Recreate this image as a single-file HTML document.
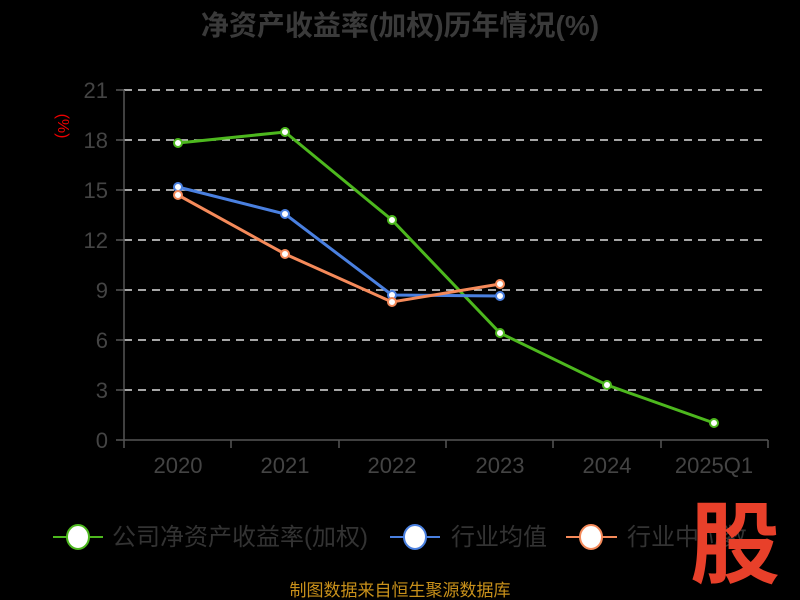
<!DOCTYPE html>
<html><head><meta charset="utf-8"><style>
html,body{margin:0;padding:0;background:#000;}
svg{display:block;font-family:"Liberation Sans","Noto Sans CJK SC",sans-serif;}
</style></head><body>
<svg width="800" height="600" viewBox="0 0 800 600">
<rect width="800" height="600" fill="#000"/>
<text x="400" y="35" text-anchor="middle" font-size="28" font-weight="bold" fill="#3a3a3a">净资产收益率(加权)历年情况(%)</text>
<g stroke="#ddd" stroke-width="1.5" stroke-dasharray="8,6">
<line x1="124" y1="90" x2="768" y2="90"/><line x1="124" y1="140" x2="768" y2="140"/>
<line x1="124" y1="190" x2="768" y2="190"/><line x1="124" y1="240" x2="768" y2="240"/>
<line x1="124" y1="290" x2="768" y2="290"/><line x1="124" y1="340" x2="768" y2="340"/>
<line x1="124" y1="390" x2="768" y2="390"/>
</g>
<g stroke="#555" stroke-width="1.5">
<line x1="124" y1="90" x2="124" y2="440"/><line x1="124" y1="440" x2="768" y2="440"/>
<line x1="116" y1="90" x2="124" y2="90"/><line x1="116" y1="140" x2="124" y2="140"/><line x1="116" y1="190" x2="124" y2="190"/><line x1="116" y1="240" x2="124" y2="240"/><line x1="116" y1="290" x2="124" y2="290"/><line x1="116" y1="340" x2="124" y2="340"/><line x1="116" y1="390" x2="124" y2="390"/><line x1="116" y1="440" x2="124" y2="440"/>
<line x1="124" y1="440" x2="124" y2="448"/><line x1="231" y1="440" x2="231" y2="448"/><line x1="339" y1="440" x2="339" y2="448"/><line x1="446" y1="440" x2="446" y2="448"/><line x1="553" y1="440" x2="553" y2="448"/><line x1="661" y1="440" x2="661" y2="448"/><line x1="768" y1="440" x2="768" y2="448"/>
</g>
<g font-size="22" fill="#444" text-anchor="end">
<text x="108" y="98">21</text><text x="108" y="148">18</text><text x="108" y="198">15</text><text x="108" y="248">12</text><text x="108" y="298">9</text><text x="108" y="348">6</text><text x="108" y="398">3</text><text x="108" y="448">0</text>
</g>
<g font-size="22" fill="#444" text-anchor="middle">
<text x="178" y="473">2020</text><text x="285" y="473">2021</text><text x="392" y="473">2022</text><text x="500" y="473">2023</text><text x="607" y="473">2024</text><text x="714" y="473">2025Q1</text>
</g>
<text transform="translate(58,126) rotate(90)" font-size="16" fill="#e00" text-anchor="middle">(%)</text>
<g fill="#fff" stroke-width="2">
<polyline fill="none" stroke="#4db81e" stroke-width="3" points="178,143 285,132 392,220 500,333 607,385 714,423"/>
<polyline fill="none" stroke="#4a80e0" stroke-width="3" points="178,187 285,214 392,295 500,296"/>
<polyline fill="none" stroke="#f58a5a" stroke-width="3" points="178,195 285,254 392,302 500,284"/>
<g stroke="#4db81e"><circle cx="178" cy="143" r="4"/><circle cx="285" cy="132" r="4"/><circle cx="392" cy="220" r="4"/><circle cx="500" cy="333" r="4"/><circle cx="607" cy="385" r="4"/><circle cx="714" cy="423" r="4"/></g>
<g stroke="#4a80e0"><circle cx="178" cy="187" r="4"/><circle cx="285" cy="214" r="4"/><circle cx="392" cy="295" r="4"/><circle cx="500" cy="296" r="4"/></g>
<g stroke="#f58a5a"><circle cx="178" cy="195" r="4"/><circle cx="285" cy="254" r="4"/><circle cx="392" cy="302" r="4"/><circle cx="500" cy="284" r="4"/></g>
</g>
<g stroke-width="2">
<line x1="53" y1="537" x2="103" y2="537" stroke="#4db81e"/><ellipse cx="78" cy="537" rx="11" ry="12" fill="#fff" stroke="#4db81e"/>
<line x1="390" y1="537" x2="440" y2="537" stroke="#4a80e0"/><ellipse cx="415" cy="537" rx="11" ry="12" fill="#fff" stroke="#4a80e0"/>
<line x1="566" y1="537" x2="617" y2="537" stroke="#f58a5a"/><ellipse cx="591" cy="537" rx="11" ry="12" fill="#fff" stroke="#f58a5a"/>
</g>
<g font-size="24" fill="#333">
<text x="112" y="545">公司净资产收益率(加权)</text><text x="451" y="545">行业均值</text><text x="627" y="545">行业中位数</text>
</g>
<text x="735" y="576" text-anchor="middle" font-size="90" font-weight="bold" fill="#e8402a">股</text>
<text x="400" y="596" text-anchor="middle" font-size="17" fill="#c8901a">制图数据来自恒生聚源数据库</text>
</svg>
</body></html>
